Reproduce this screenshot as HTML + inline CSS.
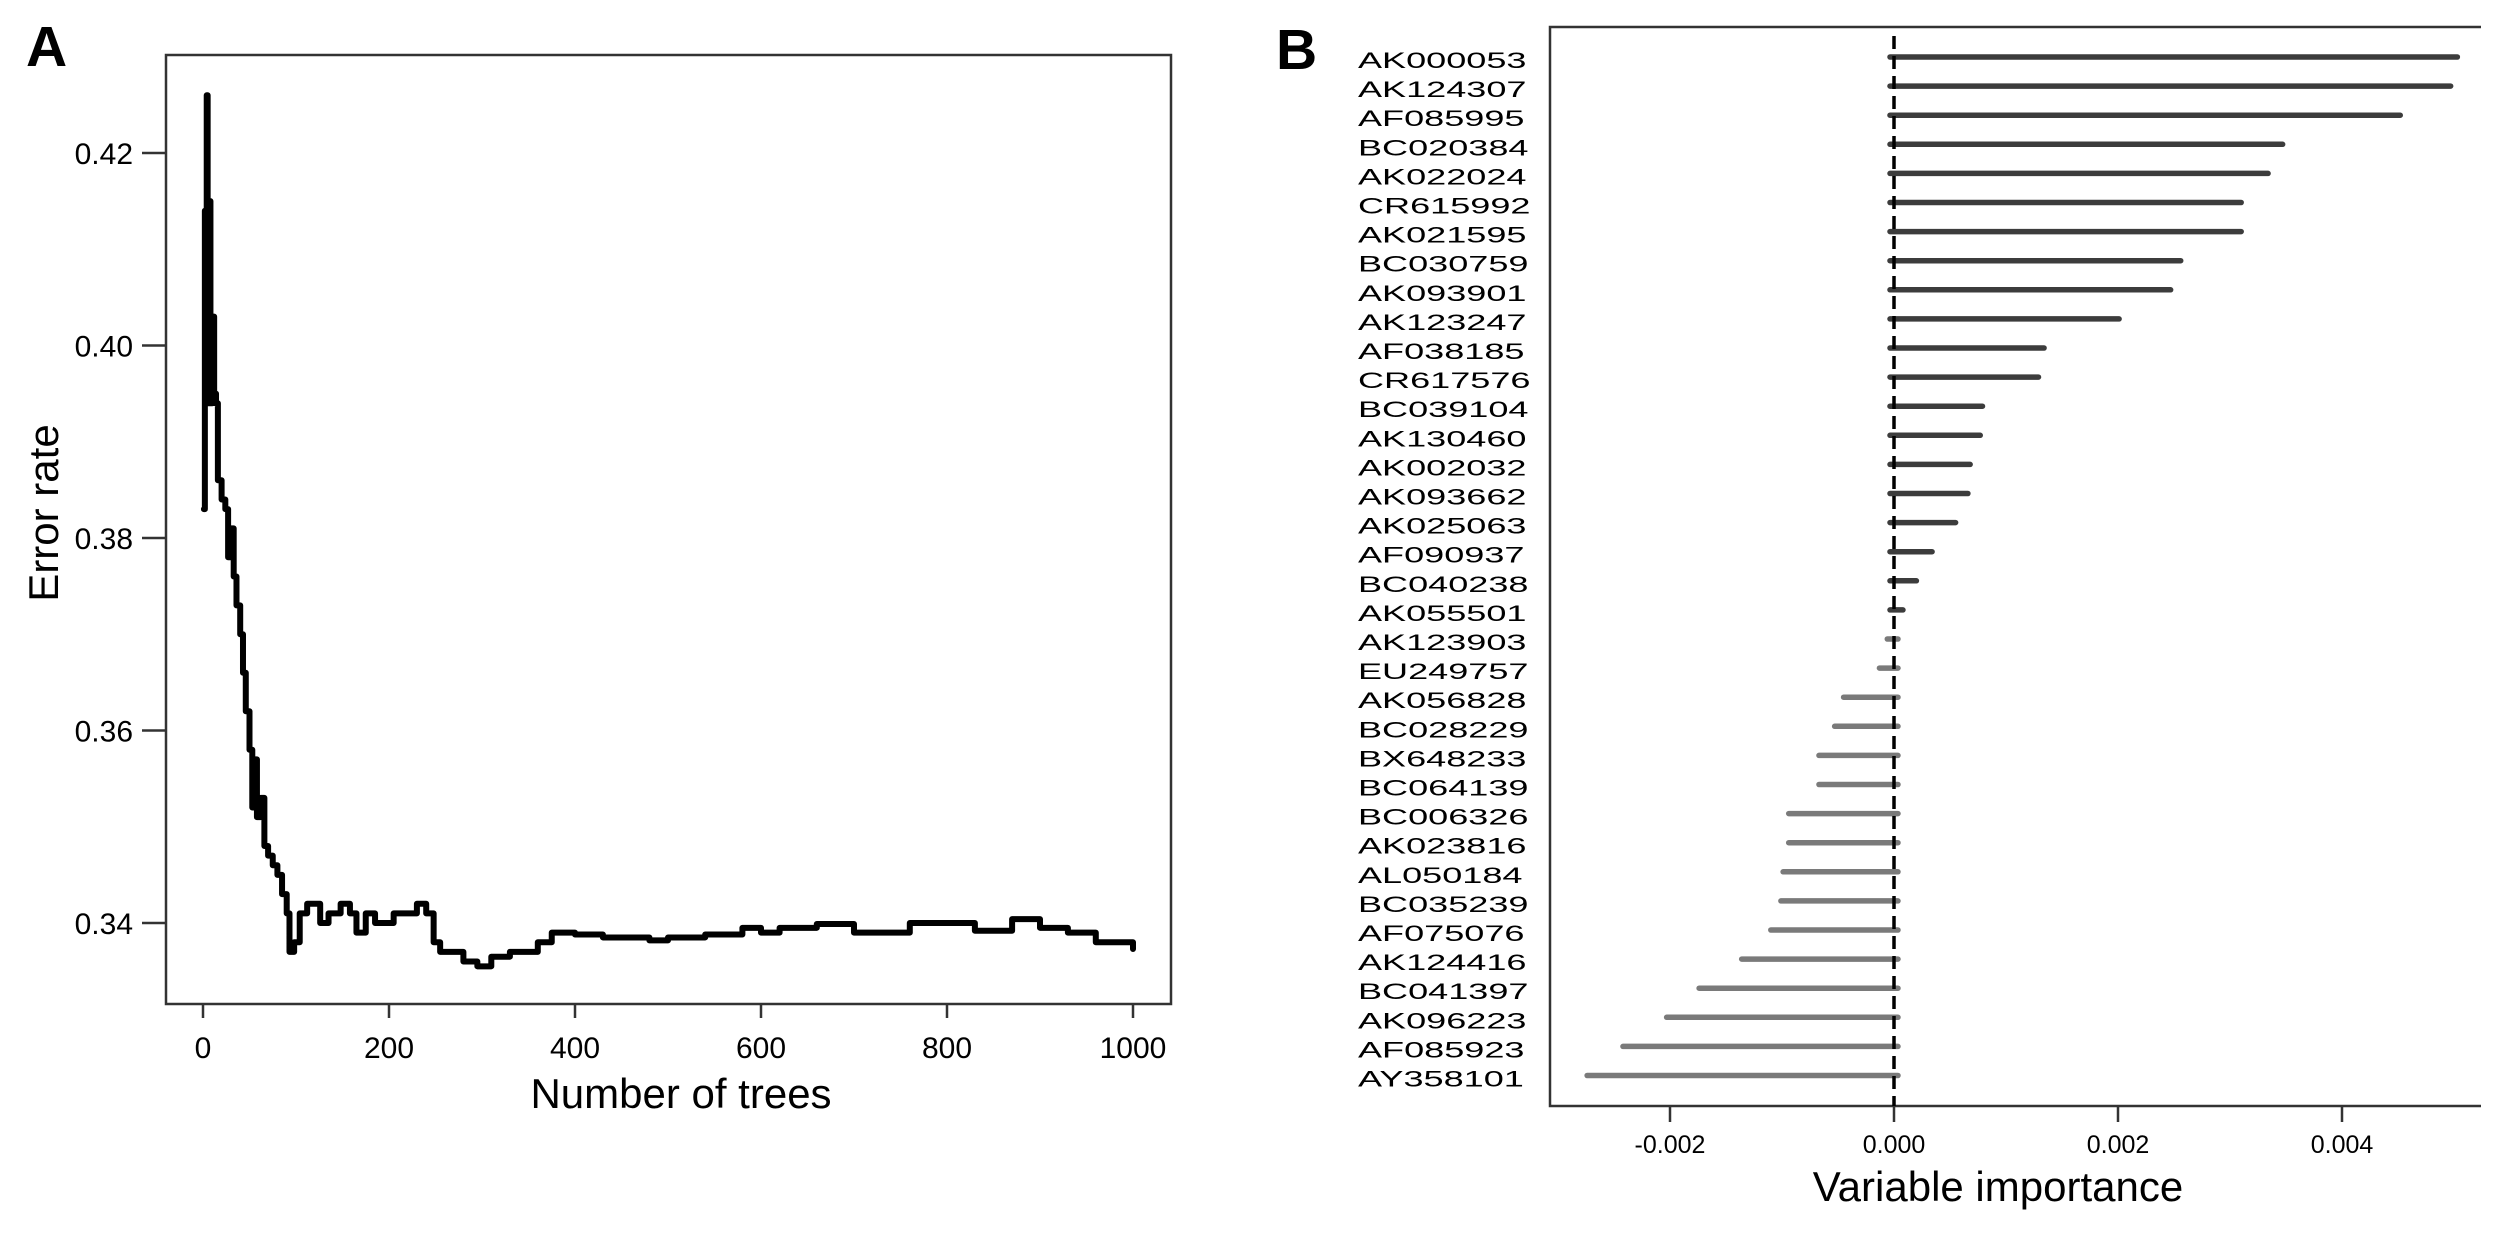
<!DOCTYPE html>
<html><head><meta charset="utf-8"><style>
html,body{margin:0;padding:0;background:#fff;}
svg{display:block;font-family:"Liberation Sans",Arial,sans-serif;}
</style></head><body>
<svg id="fig" width="2512" height="1238" viewBox="0 0 2512 1238" xmlns="http://www.w3.org/2000/svg">
<rect width="2512" height="1238" fill="#fff"/>
<g id="panelA"></g>
<g id="panelB"></g>
</svg>
<script>
// ---- Panel A data ----
const treeCounts = [1,2,3,4,5,7,8,10,12,14,16,20,24,27,30,33,36,40,43,46,50,53,56,58,62,66,70,75,80,85,90,93,98,104,112,120,126,135,148,158,165,175,185,195,205,215,230,240,248,255,270,280,295,310,330,345,360,375,400,430,460,480,500,540,580,600,620,660,700,740,760,800,830,870,900,930,960,1000];
const errorRates = [0.383,0.414,0.396,0.426,0.394,0.415,0.394,0.403,0.395,0.394,0.386,0.384,0.383,0.378,0.381,0.376,0.373,0.370,0.366,0.362,0.358,0.352,0.357,0.351,0.353,0.348,0.347,0.346,0.345,0.343,0.341,0.337,0.338,0.341,0.342,0.342,0.340,0.341,0.342,0.341,0.339,0.341,0.340,0.340,0.341,0.341,0.342,0.341,0.338,0.337,0.337,0.336,0.3355,0.3365,0.337,0.337,0.338,0.339,0.3388,0.3385,0.3385,0.3382,0.3385,0.3388,0.3395,0.339,0.3395,0.3399,0.339,0.339,0.340,0.340,0.3392,0.3404,0.3395,0.339,0.338,0.3373];
const aYTicks = [0.34,0.36,0.38,0.40,0.42];
const aYTickLabels = ["0.34","0.36","0.38","0.40","0.42"];
const aXTicks = [0,200,400,600,800,1000];
const aXTickLabels = ["0","200","400","600","800","1000"];
// ---- Panel B data ----
const geneNames = ["AK000053","AK124307","AF085995","BC020384","AK022024","CR615992","AK021595","BC030759","AK093901","AK123247","AF038185","CR617576","BC039104","AK130460","AK002032","AK093662","AK025063","AF090937","BC040238","AK055501","AK123903","EU249757","AK056828","BC028229","BX648233","BC064139","BC006326","AK023816","AL050184","BC035239","AF075076","AK124416","BC041397","AK096223","AF085923","AY358101"];
const importance = [0.00503,0.00497,0.00452,0.00347,0.00334,0.00310,0.00310,0.00256,0.00247,0.00201,0.00134,0.00129,0.00079,0.00077,0.00068,0.00066,0.00055,0.00034,0.00020,0.00008,-0.00006,-0.00013,-0.00045,-0.00053,-0.00067,-0.00067,-0.00094,-0.00094,-0.00099,-0.00101,-0.00110,-0.00136,-0.00174,-0.00203,-0.00242,-0.00274];
const bXTicks = [-0.002,0,0.002,0.004];
const bXTickLabels = ["-0.002","0.000","0.002","0.004"];

const NS = "http://www.w3.org/2000/svg";
function mk(parent, tag, attrs, text){
  const e = document.createElementNS(NS, tag);
  for (const k in attrs) e.setAttribute(k, attrs[k]);
  if (text !== undefined) e.textContent = text;
  parent.appendChild(e);
  return e;
}
// ===== Panel A =====
const A = document.getElementById('panelA');
const ax = t => 203 + t * 0.93;
const ay = v => 923 - (v - 0.34) * 9625;
let t = mk(A,'text',{x:26,y:66,'font-size':57,'font-weight':'bold'},'A');


let r = mk(A,'rect',{x:166,y:55,width:1005,height:949,fill:'none',stroke:'#333','stroke-width':2.5});


aYTicks.forEach((v,i)=>{
  const l = mk(A,'line',{x1:142,x2:166,y1:ay(v),y2:ay(v),stroke:'#333','stroke-width':2.5});
  
  
  const tx = mk(A,'text',{x:133,y:ay(v)+11,'font-size':30,'text-anchor':'end'},aYTickLabels[i]);
  
  
});
aXTicks.forEach((v,i)=>{
  const l = mk(A,'line',{x1:ax(v),x2:ax(v),y1:1004,y2:1018,stroke:'#333','stroke-width':2.5});
  
  
  const tx = mk(A,'text',{x:ax(v),y:1058,'font-size':30,'text-anchor':'middle'},aXTickLabels[i]);
  
  
});
t = mk(A,'text',{x:681,y:1108,'font-size':42,'text-anchor':'middle'},'Number of trees');


t = mk(A,'text',{x:0,y:0,'font-size':42,'text-anchor':'middle',transform:'translate(58,513) rotate(-90)'},'Error rate');


let d = '';
treeCounts.forEach((tc,i)=>{
  const x = ax(tc), y = ay(errorRates[i]);
  if (i===0) d += 'M'+x+' '+y;
  else d += ' H'+x+' V'+y;
});
let p = mk(A,'path',{d:d,fill:'none',stroke:'#000','stroke-width':6,'stroke-linejoin':'round','stroke-linecap':'round'});



// ===== Panel B =====
const B = document.getElementById('panelB');
const bx = v => 1894 + v * 112000;
const by = i => 57 + i * 29.1;
t = mk(B,'text',{x:1276,y:69,'font-size':57,'font-weight':'bold'},'B');


p = mk(B,'path',{d:'M2481 27 H1550 V1106 H2481',fill:'none',stroke:'#333','stroke-width':2.5});


bXTicks.forEach((v,i)=>{
  const l = mk(B,'line',{x1:bx(v),x2:bx(v),y1:1106,y2:1122,stroke:'#333','stroke-width':2.5});
  
  
  const tx = mk(B,'text',{x:bx(v),y:1153,'font-size':25,'text-anchor':'middle'},bXTickLabels[i]);
  
  
});
t = mk(B,'text',{x:1998,y:1201,'font-size':42,'text-anchor':'middle'},'Variable importance');


geneNames.forEach((g,i)=>{
  const v = importance[i];
  const y = by(i);
  const x0 = bx(0) - 4, x1 = bx(v);
  const bar = mk(B,'line',{x1:Math.min(x0,x1),x2:Math.max(x0+8,x1),y1:y,y2:y,stroke:v>=0?'#3c3c3c':'#7a7a7a','stroke-width':5.5,'stroke-linecap':'round'});
  
  
  const lab = mk(B,'text',{x:0,y:0,'font-size':22,transform:'translate(1358,'+(y+11)+') scale(1.64,1)'},g);
  
  
});
p = mk(B,'line',{x1:bx(0),x2:bx(0),y1:36,y2:1106,stroke:'#000','stroke-width':3.5,'stroke-dasharray':'13 7'});


</script>
</body></html>
